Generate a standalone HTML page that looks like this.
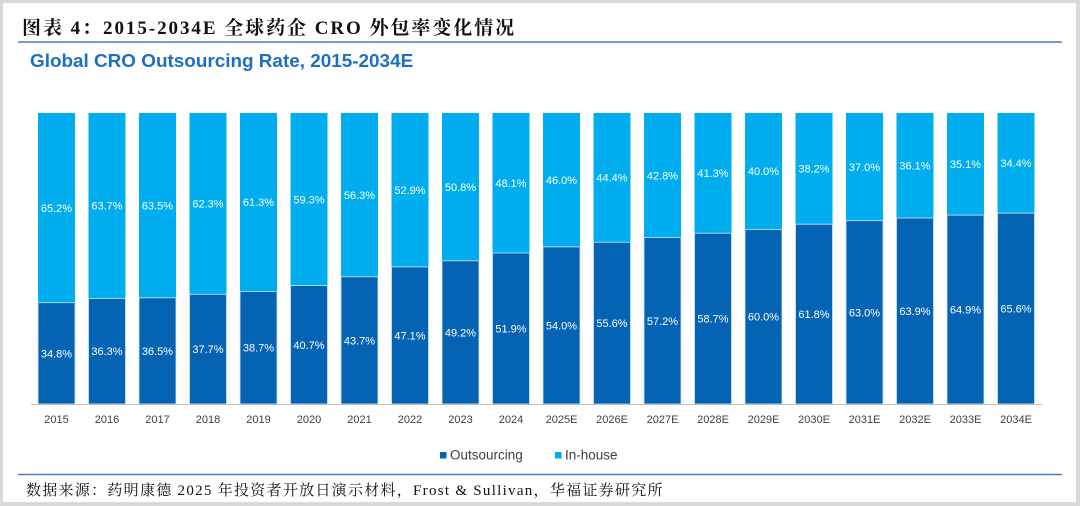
<!DOCTYPE html>
<html><head><meta charset="utf-8"><style>
html,body{margin:0;padding:0;background:#fff}
svg{display:block}
</style></head><body>
<svg width="1080" height="506" xmlns="http://www.w3.org/2000/svg">
<rect x="0" y="0" width="1080" height="506" fill="#d9d9d9"/>
<rect x="3" y="3" width="1073" height="499" fill="#fff"/>
<text x="22" y="34" font-family="'Liberation Serif','Noto Serif CJK SC',serif" font-size="19" font-weight="bold" letter-spacing="1.95" fill="#111">图表 4：2015-2034E 全球药企 CRO 外包率变化情况</text>
<line x1="18" y1="42" x2="1062" y2="42" stroke="#4a7cc0" stroke-width="1.5"/>
<text x="30" y="67" font-family="'Liberation Sans',sans-serif" font-size="18.9" font-weight="bold" fill="#1d6fc0">Global CRO Outsourcing Rate, 2015-2034E</text>
<g fill="#00aeef">
<rect x="38" y="113" width="37" height="291"/><rect x="88.5" y="113" width="37" height="291"/><rect x="139" y="113" width="37" height="291"/><rect x="189.5" y="113" width="37" height="291"/><rect x="240" y="113" width="37" height="291"/><rect x="290.5" y="113" width="37" height="291"/><rect x="341" y="113" width="37" height="291"/><rect x="391.5" y="113" width="37" height="291"/><rect x="442" y="113" width="37" height="291"/><rect x="492.5" y="113" width="37" height="291"/><rect x="543" y="113" width="37" height="291"/><rect x="593.5" y="113" width="37" height="291"/><rect x="644" y="113" width="37" height="291"/><rect x="694.5" y="113" width="37" height="291"/><rect x="745" y="113" width="37" height="291"/><rect x="795.5" y="113" width="37" height="291"/><rect x="846" y="113" width="37" height="291"/><rect x="896.5" y="113" width="37" height="291"/><rect x="947" y="113" width="37" height="291"/><rect x="997.5" y="113" width="37" height="291"/>
</g>
<g fill="#0563b4" stroke="#cfe8f7" stroke-width="0.8">
<rect x="38" y="302.7" width="37" height="101.3"/><rect x="88.5" y="298.4" width="37" height="105.6"/><rect x="139" y="297.8" width="37" height="106.2"/><rect x="189.5" y="294.3" width="37" height="109.7"/><rect x="240" y="291.4" width="37" height="112.6"/><rect x="290.5" y="285.6" width="37" height="118.4"/><rect x="341" y="276.8" width="37" height="127.2"/><rect x="391.5" y="266.9" width="37" height="137.1"/><rect x="442" y="260.8" width="37" height="143.2"/><rect x="492.5" y="253" width="37" height="151"/><rect x="543" y="246.9" width="37" height="157.1"/><rect x="593.5" y="242.2" width="37" height="161.8"/><rect x="644" y="237.5" width="37" height="166.5"/><rect x="694.5" y="233.2" width="37" height="170.8"/><rect x="745" y="229.4" width="37" height="174.6"/><rect x="795.5" y="224.2" width="37" height="179.8"/><rect x="846" y="220.7" width="37" height="183.3"/><rect x="896.5" y="218" width="37" height="186"/><rect x="947" y="215.1" width="37" height="188.9"/><rect x="997.5" y="213.1" width="37" height="190.9"/>
</g>
<line x1="31" y1="404.5" x2="1042" y2="404.5" stroke="#bfbfbf" stroke-width="1"/>
<g font-family="'Liberation Sans',sans-serif" font-size="11" fill="#fff" text-anchor="middle">
<text x="56.5" y="211.9">65.2%</text><text x="107" y="209.7">63.7%</text><text x="157.5" y="209.4">63.5%</text><text x="208" y="207.7">62.3%</text><text x="258.5" y="206.2">61.3%</text><text x="309" y="203.3">59.3%</text><text x="359.5" y="198.9">56.3%</text><text x="410" y="194">52.9%</text><text x="460.5" y="190.9">50.8%</text><text x="511" y="187">48.1%</text><text x="561.5" y="184">46.0%</text><text x="612" y="181.6">44.4%</text><text x="662.5" y="179.3">42.8%</text><text x="713" y="177.1">41.3%</text><text x="763.5" y="175.2">40.0%</text><text x="814" y="172.6">38.2%</text><text x="864.5" y="170.9">37.0%</text><text x="915" y="169.5">36.1%</text><text x="965.5" y="168">35.1%</text><text x="1016" y="167">34.4%</text>
<text x="56.5" y="357.4">34.8%</text><text x="107" y="355.2">36.3%</text><text x="157.5" y="354.9">36.5%</text><text x="208" y="353.2">37.7%</text><text x="258.5" y="351.7">38.7%</text><text x="309" y="348.8">40.7%</text><text x="359.5" y="344.4">43.7%</text><text x="410" y="339.5">47.1%</text><text x="460.5" y="336.4">49.2%</text><text x="511" y="332.5">51.9%</text><text x="561.5" y="329.5">54.0%</text><text x="612" y="327.1">55.6%</text><text x="662.5" y="324.8">57.2%</text><text x="713" y="322.6">58.7%</text><text x="763.5" y="320.7">60.0%</text><text x="814" y="318.1">61.8%</text><text x="864.5" y="316.4">63.0%</text><text x="915" y="315">63.9%</text><text x="965.5" y="313.6">64.9%</text><text x="1016" y="312.6">65.6%</text>
</g>
<g font-family="'Liberation Sans',sans-serif" font-size="11" fill="#404040" text-anchor="middle">
<text x="56.5" y="423">2015</text><text x="107" y="423">2016</text><text x="157.5" y="423">2017</text><text x="208" y="423">2018</text><text x="258.5" y="423">2019</text><text x="309" y="423">2020</text><text x="359.5" y="423">2021</text><text x="410" y="423">2022</text><text x="460.5" y="423">2023</text><text x="511" y="423">2024</text><text x="561.5" y="423">2025E</text><text x="612" y="423">2026E</text><text x="662.5" y="423">2027E</text><text x="713" y="423">2028E</text><text x="763.5" y="423">2029E</text><text x="814" y="423">2030E</text><text x="864.5" y="423">2031E</text><text x="915" y="423">2032E</text><text x="965.5" y="423">2033E</text><text x="1016" y="423">2034E</text>
</g>
<rect x="440" y="452" width="6.5" height="6.5" fill="#0563b4"/>
<text x="450" y="459.5" font-family="'Liberation Sans',sans-serif" font-size="13.5" fill="#404040">Outsourcing</text>
<rect x="555" y="452" width="6.5" height="6.5" fill="#00aeef"/>
<text x="565" y="459.5" font-family="'Liberation Sans',sans-serif" font-size="13.5" fill="#404040">In-house</text>
<line x1="18" y1="474.5" x2="1062" y2="474.5" stroke="#4a7cc0" stroke-width="1.5"/>
<text x="26" y="495" font-family="'Liberation Serif','Noto Serif CJK SC',serif" font-size="15" letter-spacing="1.28" fill="#111">数据来源：药明康德 2025 年投资者开放日演示材料，Frost &amp; Sullivan，华福证券研究所</text>
</svg>
</body></html>
